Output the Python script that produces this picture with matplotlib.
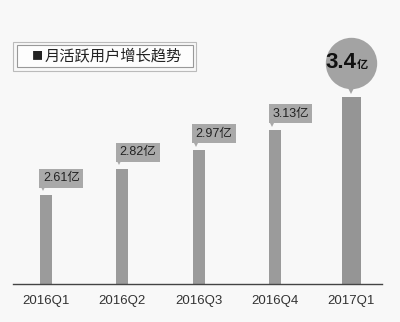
import matplotlib
matplotlib.use("Agg")
import matplotlib.pyplot as plt
from matplotlib.patches import Rectangle
from matplotlib.transforms import offset_copy

categories = ["2016Q1", "2016Q2", "2016Q3", "2016Q4", "2017Q1"]
values = [2.61, 2.82, 2.97, 3.13, 3.4]
value_labels = ["2.61", "2.82", "2.97", "3.13", "3.4"]
unit = "亿"
title = "月活跃用户增长趋势"

W, H = 400, 322
fig = plt.figure(figsize=(W / 100, H / 100), dpi=100)
fig.patch.set_facecolor("#f8f8f8")

# axes: baseline at y=284px, left 13px, right 382px, top 30px
ax = fig.add_axes([13 / W, (H - 284) / H, 369 / W, 254 / H])
ax.set_facecolor("none")
ax.set_ylim(1.89, 1.89 + 254 / 123.9)
ax.set_xlim(-0.432, 4.40)

xs = list(range(len(categories)))
widths = [0.157, 0.157, 0.157, 0.157, 0.25]
colors = ["#9b9b9b"] * 4 + ["#959595"]
ax.bar(xs, [v - 1.89 for v in values], bottom=1.89, width=widths,
       color=colors, edgecolor="none", zorder=2)

for s in ["top", "right", "left"]:
    ax.spines[s].set_visible(False)
ax.spines["bottom"].set_color("#444444")
ax.spines["bottom"].set_linewidth(1.0)
ax.set_yticks([])
ax.set_xticks(xs)
ax.set_xticklabels(categories, fontsize=9.5, color="#333333",
                   family=["Liberation Sans", "DejaVu Sans"])
ax.tick_params(axis="x", length=0, pad=8)

fam = ["Liberation Sans", "Noto Sans CJK SC"]
for i, (x, v, lab) in enumerate(zip(xs, values, value_labels)):
    left = x - widths[i] / 2
    if i < 4:
        t = offset_copy(ax.transData, fig=fig, x=3, y=16.5, units="dots")
        ax.text(left, v, lab + unit, transform=t, ha="left", va="center",
                fontsize=9, color="#222222", family=fam, zorder=4,
                bbox=dict(boxstyle="square,pad=0.28", fc="#a9a9a9", ec="none"))
        tt = offset_copy(ax.transData, fig=fig, x=3, y=6.5, units="dots")
        ax.plot([left], [v], transform=tt, marker="v", markersize=4,
                color="#a9a9a9", markeredgewidth=0, clip_on=False, zorder=3)
    else:
        tc = offset_copy(ax.transData, fig=fig, x=0, y=34, units="dots")
        ax.plot([x], [v], transform=tc, marker="o", markersize=37,
                color="#a3a3a3", markeredgewidth=0, clip_on=False, zorder=3)
        tp = offset_copy(ax.transData, fig=fig, x=0, y=6, units="dots")
        ax.plot([x], [v], transform=tp, marker="v", markersize=5,
                color="#a3a3a3", markeredgewidth=0, clip_on=False, zorder=3)
        tn = offset_copy(ax.transData, fig=fig, x=5, y=34, units="dots")
        ax.text(x, v, lab, transform=tn, ha="right", va="center",
                fontsize=16, fontweight="bold", color="#111111",
                family=fam, zorder=4)
        tu = offset_copy(ax.transData, fig=fig, x=5, y=32, units="dots")
        ax.text(x, v, unit, transform=tu, ha="left", va="center",
                fontsize=8, fontweight="bold", color="#111111",
                family=["Noto Sans CJK SC"], zorder=4)

# title box (double border)
fig.add_artist(Rectangle((13 / W, (H - 71) / H), 183 / W, 29 / H,
                         transform=fig.transFigure, fill=False,
                         ec="#bbbbbb", lw=0.8))
fig.add_artist(Rectangle((17 / W, (H - 67) / H), 176 / W, 22 / H,
                         transform=fig.transFigure, fc="#fdfdfd",
                         ec="#999999", lw=0.8))
fig.text(32 / W, (H - 56) / H, "■", ha="left", va="center",
         fontsize=8, color="#222222",
         family=["Noto Sans CJK SC", "DejaVu Sans"])
fig.text(45 / W, (H - 56) / H, title, ha="left", va="center",
         fontsize=11, color="#222222",
         family=["Noto Sans CJK SC", "DejaVu Sans"])

fig.savefig("out.png", dpi=100, facecolor=fig.get_facecolor())
